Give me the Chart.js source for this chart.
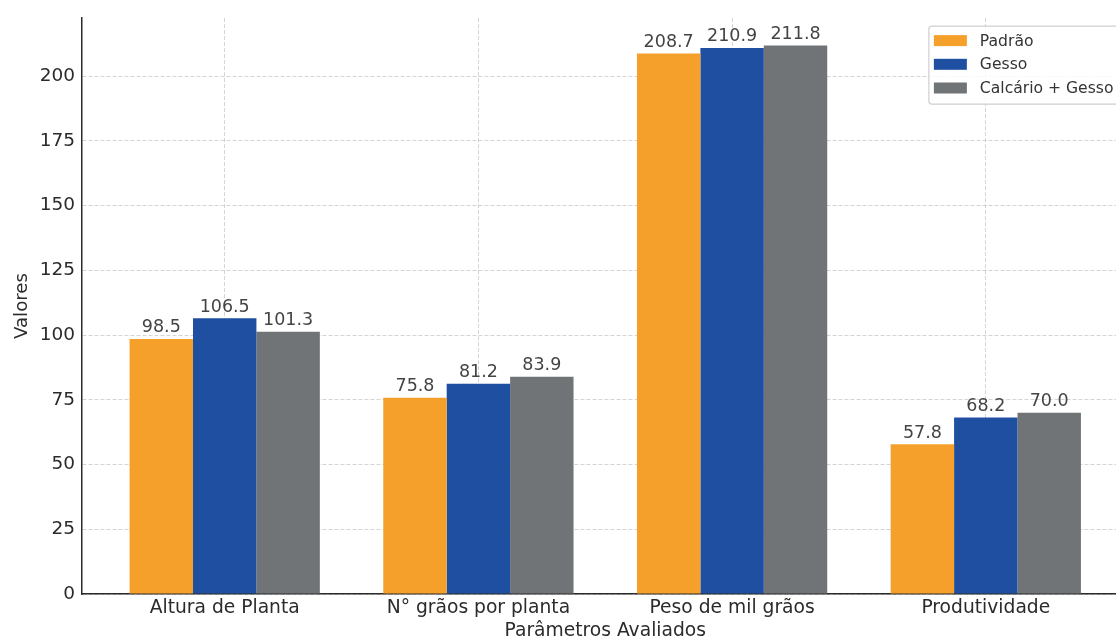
<!DOCTYPE html>
<html lang="pt">
<head>
<meta charset="utf-8">
<title>Parâmetros Avaliados</title>
<script src="https://cdn.jsdelivr.net/npm/chart.js@4/dist/chart.umd.min.js"></script>
<style>
  html, body { margin: 0; padding: 0; background: #fff; }
  #wrap { width: 1116px; height: 644px; overflow: hidden; position: relative; }
  #chart { display: block; }
</style>
</head>
<body>
<div id="wrap"><canvas id="chart" width="1132" height="644"></canvas></div>
<script>
// Categorias e valores por tratamento
const categories = ['Altura de Planta', 'N° grãos por planta', 'Peso de mil grãos', 'Produtividade'];
const padrao = [98.5, 75.8, 208.7, 57.8];
const gesso = [106.5, 81.2, 210.9, 68.2];
const calcarioGesso = [101.3, 83.9, 211.8, 70.0];
const seriesNames = ['Padrão', 'Gesso', 'Calcário + Gesso'];
const yTicks = [0, 25, 50, 75, 100, 125, 150, 175, 200];

const colors = ['#f5a02a', '#1e4fa1', '#717476'];
const FONT = 'DejaVu Sans';

function toPoints(values) {
  return values.map((v, i) => ({ x: i, y: v }));
}

// Rótulos de valor sobre cada barra
const valueLabels = {
  id: 'valueLabels',
  afterDraw(chart) {
    const ctx = chart.ctx;
    ctx.save();
    ctx.font = '17.5px "' + FONT + '"';
    ctx.fillStyle = '#444';
    ctx.textAlign = 'center';
    ctx.textBaseline = 'alphabetic';
    chart.data.datasets.forEach((ds, di) => {
      const meta = chart.getDatasetMeta(di);
      meta.data.forEach((bar, i) => {
        ctx.fillText(ds.data[i].y.toFixed(1), bar.x, bar.y - 6.5);
      });
    });
    ctx.restore();
  }
};

// Legenda no canto superior direito da área do gráfico
const cornerLegend = {
  id: 'cornerLegend',
  afterDraw(chart) {
    const ctx = chart.ctx;
    const area = chart.chartArea;
    ctx.save();
    ctx.font = '15.6px "' + FONT + '"';
    let tw = 0;
    seriesNames.forEach(n => { tw = Math.max(tw, ctx.measureText(n).width); });
    const patchW = 33, patchH = 11, padL = 5, gap = 13, padR = 7;
    const w = padL + patchW + gap + tw + padR;
    const h = 78;
    const right = area.right - 8;
    const left = right - w;
    const top = area.top + 8;
    ctx.beginPath();
    ctx.roundRect(left, top, w, h, 3);
    ctx.fillStyle = 'rgba(255,255,255,0.85)';
    ctx.fill();
    ctx.strokeStyle = '#d0d0d0';
    ctx.lineWidth = 1.2;
    ctx.stroke();
    const rowH = 23.7;
    seriesNames.forEach((n, i) => {
      const cy = top + 14.5 + i * rowH;
      ctx.fillStyle = colors[i];
      ctx.fillRect(left + padL, cy - patchH / 2, patchW, patchH);
      ctx.fillStyle = '#333';
      ctx.textAlign = 'left';
      ctx.textBaseline = 'middle';
      ctx.fillText(n, left + padL + patchW + gap, cy + 1);
    });
    ctx.restore();
  }
};

const gridColor = 'rgba(176,176,176,0.55)';
const axisColor = '#2b2b2b';

new Chart(document.getElementById('chart'), {
  type: 'bar',
  data: {
    datasets: [padrao, gesso, calcarioGesso].map((vals, i) => ({
      label: seriesNames[i],
      data: toPoints(vals),
      backgroundColor: colors[i],
      borderWidth: 0,
      categoryPercentage: 0.75,
      barPercentage: 1.0
    }))
  },
  options: {
    responsive: false,
    animation: false,
    devicePixelRatio: 1,
    layout: { padding: { left: 0, top: 18, right: 3.5, bottom: 0 } },
    plugins: {
      legend: { display: false },
      tooltip: { enabled: false },
      title: { display: false }
    },
    scales: {
      x: {
        type: 'linear',
        min: -0.5625,
        max: 3.5625,
        offset: false,
        z: 1,
        afterBuildTicks(scale) {
          scale.ticks = categories.map((c, i) => ({ value: i }));
        },
        afterFit(scale) { scale.height = 50; },
        ticks: {
          autoSkip: false,
          maxRotation: 0,
          padding: 3,
          color: axisColor,
          font: { family: FONT, size: 18.7 },
          callback: (v) => categories[v]
        },
        grid: {
          offset: false,
          color: gridColor,
          lineWidth: 1,
          drawTicks: false
        },
        border: { display: true, color: axisColor, width: 1.5, dash: [4, 2] },
        title: {
          display: true,
          text: 'Parâmetros Avaliados',
          color: axisColor,
          font: { family: FONT, size: 18.7 },
          padding: { top: 0, bottom: 1.5 }
        }
      },
      y: {
        min: 0,
        max: 222.4,
        z: 1,
        afterBuildTicks(scale) {
          scale.ticks = yTicks.map(v => ({ value: v }));
        },
        afterFit(scale) { scale.width = 82; },
        ticks: {
          padding: 7,
          color: axisColor,
          font: { family: FONT, size: 18.5 }
        },
        grid: {
          color: gridColor,
          lineWidth: 1,
          drawTicks: false
        },
        border: { display: true, color: axisColor, width: 1.5, dash: [4, 2] },
        title: {
          display: true,
          text: 'Valores',
          color: axisColor,
          font: { family: FONT, size: 18.2 },
          padding: { top: 11, bottom: 0 }
        }
      }
    }
  },
  plugins: [valueLabels, cornerLegend]
});
</script>
</body>
</html>
